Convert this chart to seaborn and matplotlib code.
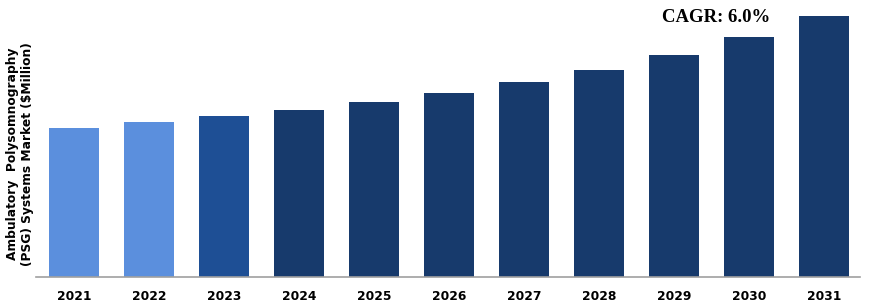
import matplotlib
matplotlib.use("Agg")
import matplotlib.pyplot as plt
import seaborn as sns
import pandas as pd

years = ["2021", "2022", "2023", "2024", "2025", "2026", "2027", "2028", "2029", "2030", "2031"]
values = [149, 155, 161, 167, 175, 184, 195, 207, 222, 240, 261]
bar_colors = ["#5B8FDD", "#5B8FDD", "#1E4F95", "#173A6C", "#173A6C", "#173A6C",
              "#173A6C", "#173A6C", "#173A6C", "#173A6C", "#173A6C"]
ylabel = "Ambulatory  Polysomnography\n(PSG) Systems Market ($Million)"
cagr_text = "CAGR: 6.0%"

sns.set_theme(style="white")
plt.rcParams['font.family'] = ['DejaVu Sans']

W, H = 875, 307
fig = plt.figure(figsize=(W / 100, H / 100), dpi=100)
ax = fig.add_axes([36 / W, 30 / H, (860 - 36) / W, (277 - 5) / H])

df = pd.DataFrame({"year": years, "value": values})
sns.barplot(data=df, x="year", y="value", hue="year", palette=bar_colors,
            legend=False, width=0.667, saturation=1, linewidth=0,
            edgecolor="none", ax=ax)

ax.set_ylim(0, 272)
ax.set_xlim(-0.507, 10.48)
for s in ["top", "right", "left"]:
    ax.spines[s].set_visible(False)
ax.spines["bottom"].set_color("#A0A0A0")
ax.spines["bottom"].set_linewidth(1.2)
ax.set_yticks([])
ax.set_xlabel("")
ax.set_ylabel("")
ax.tick_params(axis="x", length=0, pad=9)
for lbl in ax.get_xticklabels():
    lbl.set_fontweight("bold")
    lbl.set_fontsize(8.8)
    lbl.set_color("black")

fig.text(20 / W, 1 - 154 / H, ylabel, rotation=90, ha="center", va="center",
         fontsize=8.8, fontweight="bold", color="black", linespacing=1.15)

fig.text(716 / W, 1 - 18 / H, cagr_text, ha="center", va="center",
         fontsize=13.5, fontweight="bold", family=["Liberation Serif"], color="black")

fig.savefig("out.png", dpi=100)
